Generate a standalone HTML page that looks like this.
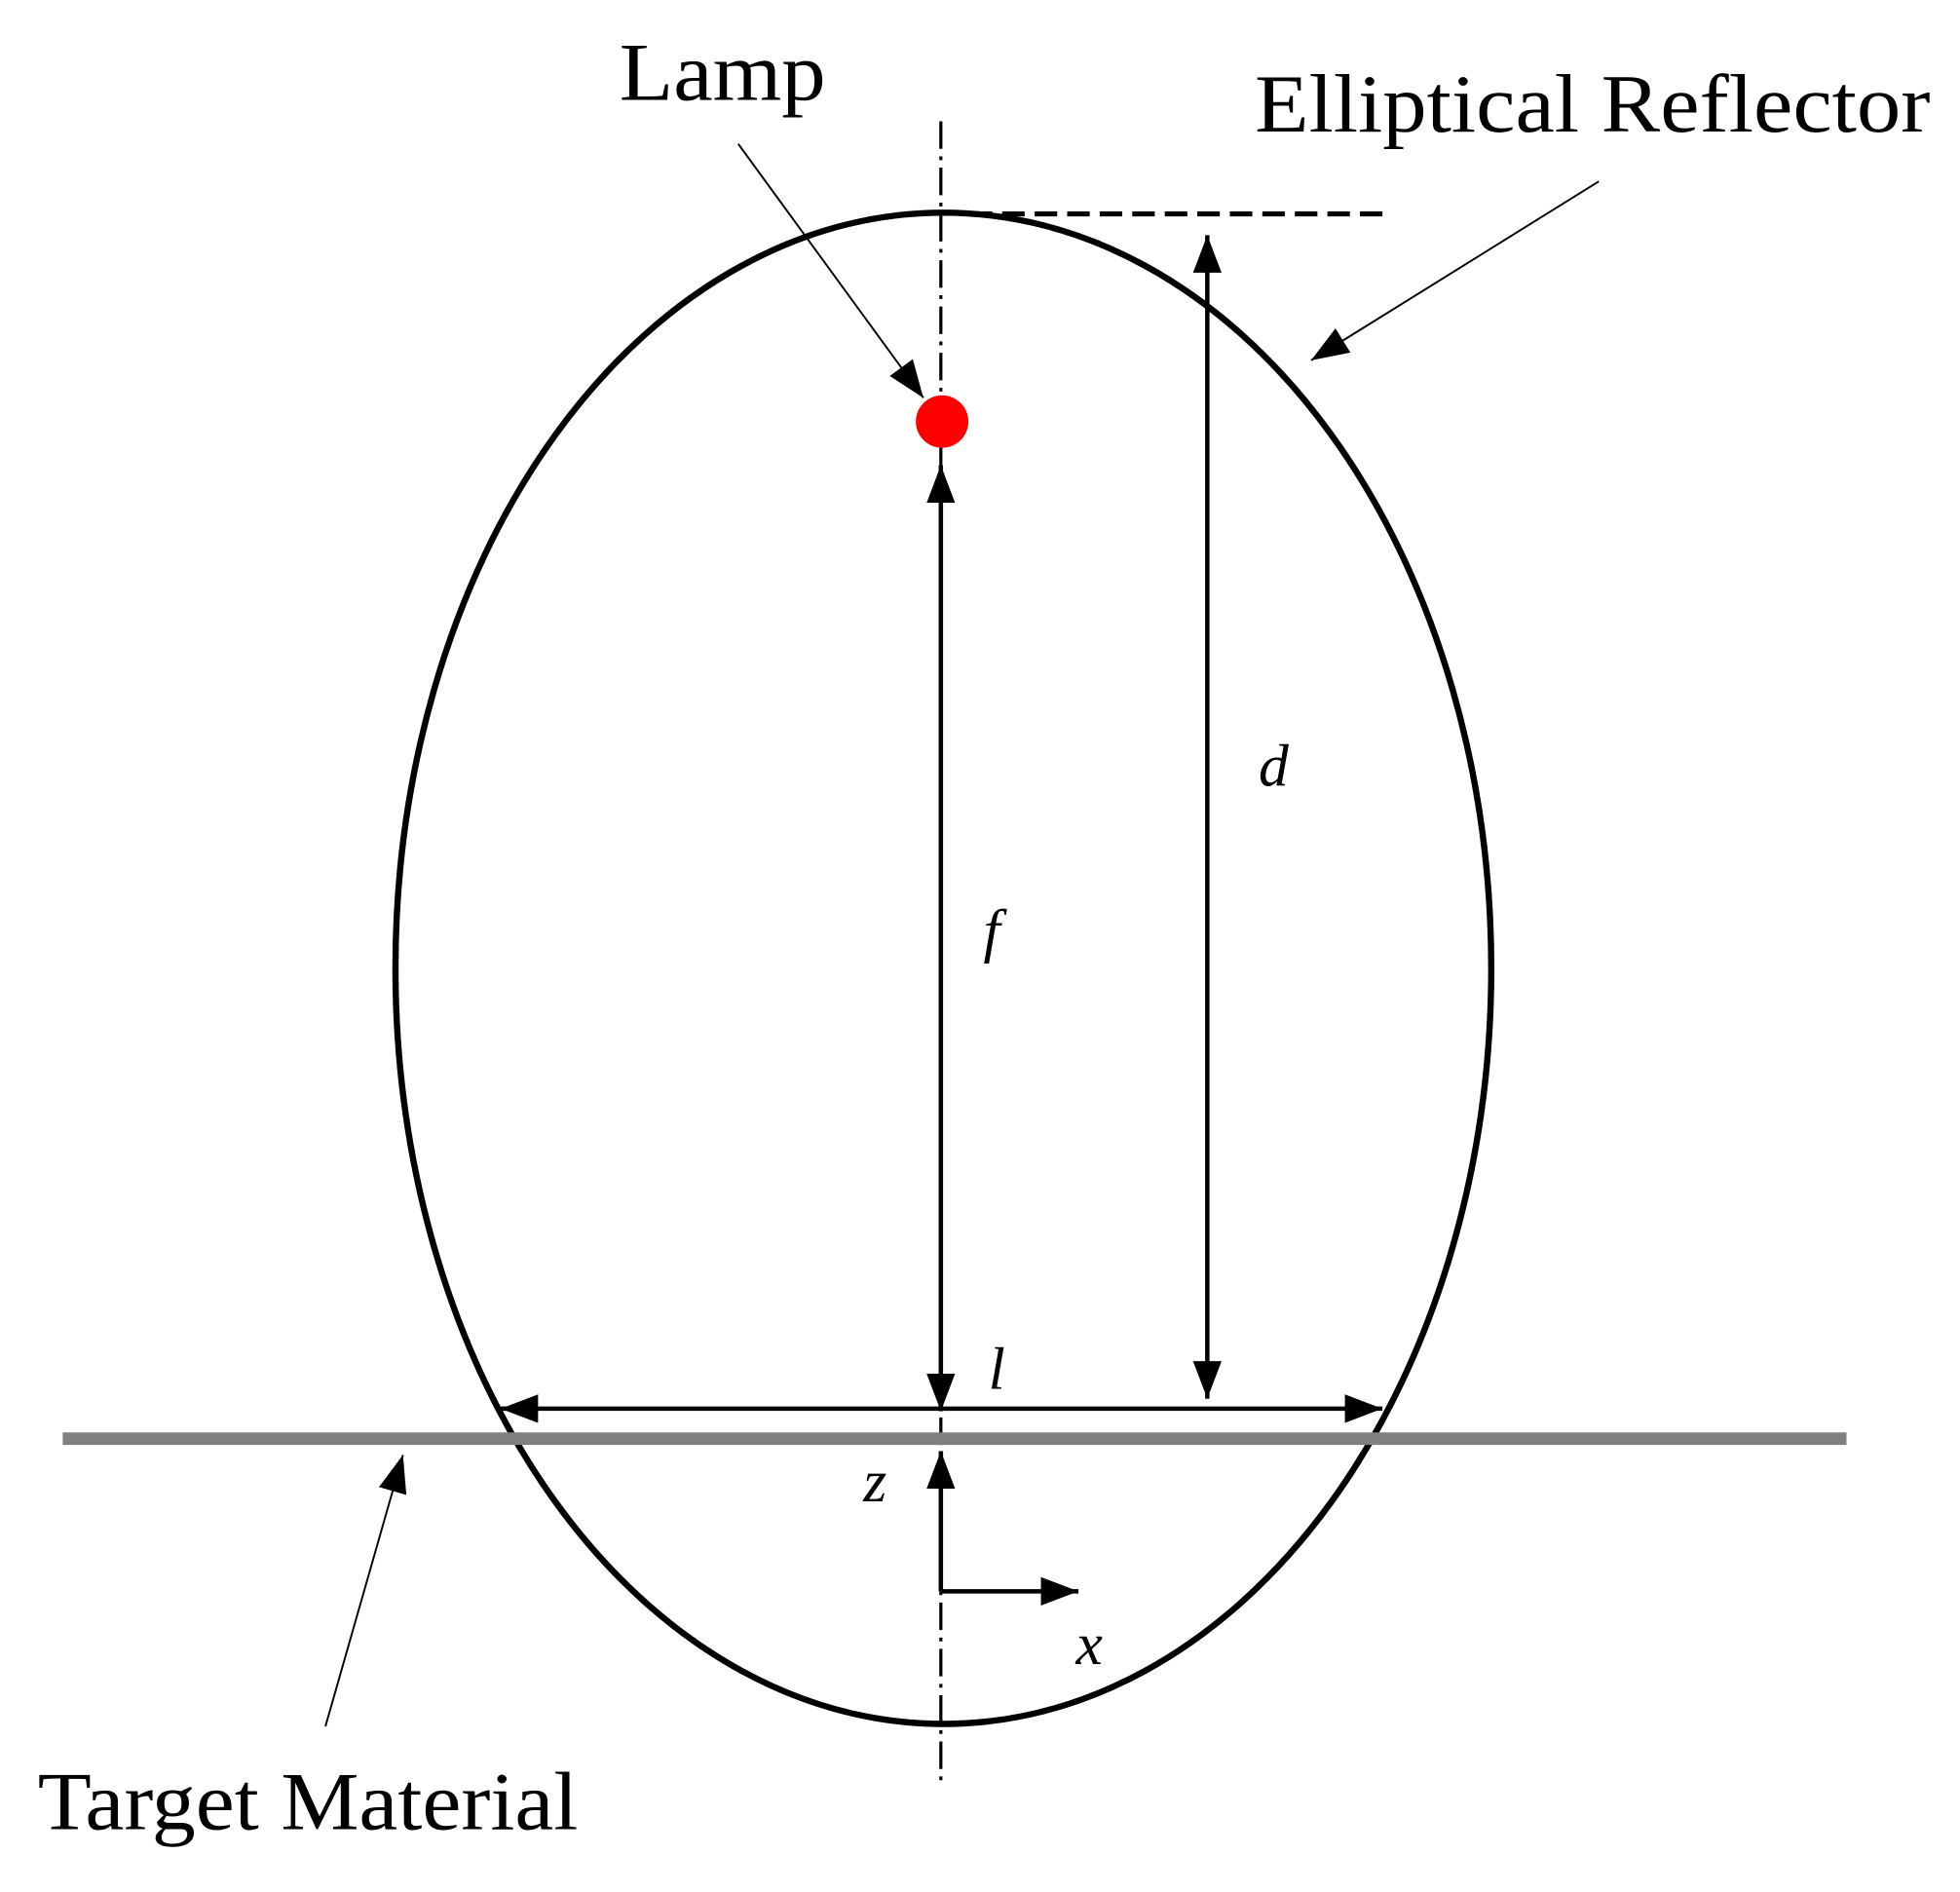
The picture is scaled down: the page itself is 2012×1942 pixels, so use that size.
<!DOCTYPE html>
<html><head><style>html,body{margin:0;padding:0;background:#fff}svg{display:block}</style></head>
<body>
<svg width="2012" height="1942" viewBox="0 0 1560 1506" xmlns="http://www.w3.org/2000/svg">
<defs>
<marker id="big" viewBox="0 0 10 10" refX="10" refY="5" markerWidth="30" markerHeight="30" markerUnits="userSpaceOnUse" orient="auto-start-reverse"><path d="M0,1.2 L10,5 L0,8.8 z" fill="#000"/></marker>
<marker id="sm" viewBox="0 0 10 10" refX="10" refY="5" markerWidth="30" markerHeight="30" markerUnits="userSpaceOnUse" orient="auto"><path d="M0,1.2 L10,5 L0,8.8 z" fill="#000"/></marker>
</defs>
<g transform="scale(0.9958)">
<ellipse cx="754" cy="774" rx="438" ry="604" fill="none" stroke="#000" stroke-width="5"/>
<line x1="752" y1="97" x2="752" y2="1425" stroke="#000" stroke-width="2.5" stroke-dasharray="22,6,3,6"/>
<line x1="775" y1="171" x2="1110" y2="171" stroke="#000" stroke-width="4" stroke-dasharray="18,8"/>
<line x1="50" y1="1150" x2="1476" y2="1150" stroke="#808080" stroke-width="10"/>
<circle cx="753" cy="337" r="21" fill="#f00"/>
<line x1="752" y1="372" x2="752" y2="1128" stroke="#000" stroke-width="3.5" marker-start="url(#big)" marker-end="url(#big)"/>
<line x1="965" y1="188" x2="965" y2="1118" stroke="#000" stroke-width="3.5" marker-start="url(#big)" marker-end="url(#big)"/>
<line x1="400" y1="1126" x2="1105" y2="1126" stroke="#000" stroke-width="3.5" marker-start="url(#big)" marker-end="url(#big)"/>
<line x1="752" y1="1272" x2="752" y2="1160" stroke="#000" stroke-width="3.5" marker-end="url(#sm)"/>
<line x1="752" y1="1272" x2="862" y2="1272" stroke="#000" stroke-width="3.5" marker-end="url(#sm)"/>
<g stroke="#000" stroke-width="1.5">
<line x1="590" y1="115" x2="738" y2="318" marker-end="url(#big)"/>
<line x1="1278" y1="145" x2="1048" y2="288" marker-end="url(#big)"/>
<line x1="260" y1="1380" x2="322" y2="1163" marker-end="url(#big)"/>
</g>
<g font-family="Liberation Serif, serif" fill="#000">
<text x="495" y="80" font-size="66" textLength="165" lengthAdjust="spacingAndGlyphs">Lamp</text>
<text x="1003" y="105" font-size="66" textLength="540" lengthAdjust="spacingAndGlyphs">Elliptical Reflector</text>
<text x="30" y="1462" font-size="66" textLength="432" lengthAdjust="spacingAndGlyphs">Target Material</text>
<g font-style="italic" font-size="48">
<text x="786" y="760">f</text>
<text x="1006" y="628">d</text>
<text x="790" y="1110">l</text>
<text x="690" y="1200">z</text>
<text x="860" y="1330">x</text>
</g>
</g>
</g>
</svg>
</body></html>
